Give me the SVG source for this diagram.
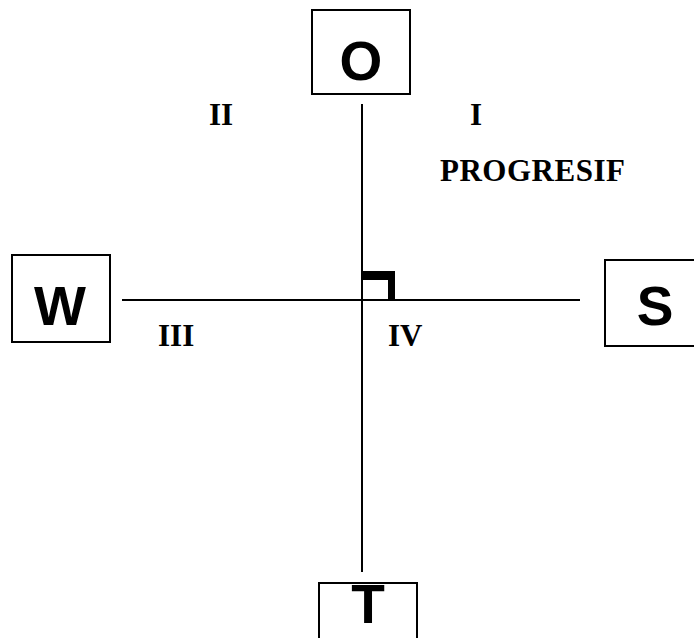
<svg xmlns="http://www.w3.org/2000/svg" width="694" height="638" viewBox="0 0 694 638">
<style>
.box{fill:#fff;stroke:#000;stroke-width:2}
.lbl{font-family:"Liberation Sans",Arial,sans-serif;font-weight:bold;font-size:55px;text-anchor:middle;fill:#000}
.rom{font-family:"Liberation Serif","Times New Roman",serif;font-weight:bold;font-size:31px;fill:#000}
.ax{stroke:#000;stroke-width:2;fill:none}
</style>
<rect width="694" height="638" fill="#fff"/>
<g id="connectors">
<line class="ax" x1="362" y1="104" x2="362" y2="572"/>
<line class="ax" x1="122" y1="300" x2="580" y2="300"/>
<path d="M362 271 H395 V300 H388 V280 H362 Z" fill="#000"/>
</g>
<g id="node-O"><rect class="box" x="312" y="10" width="98" height="84"/><text class="lbl" x="361" y="80">O</text></g>
<g id="node-W"><rect class="box" x="12" y="255" width="98" height="87"/><text class="lbl" x="60" y="325">W</text></g>
<g id="node-S"><rect class="box" x="605" y="260" width="100" height="86"/><text class="lbl" x="655" y="325">S</text></g>
<g id="node-T"><rect class="box" x="319" y="583" width="98" height="70"/><text class="lbl" x="368" y="623">T</text></g>
<g id="labels">
<text class="rom" x="209" y="125">II</text>
<text class="rom" x="470" y="125">I</text>
<text class="rom" x="440" y="181" textLength="185">PROGRESIF</text>
<text class="rom" x="158" y="346">III</text>
<text class="rom" x="388" y="346">IV</text>
</g>
</svg>
